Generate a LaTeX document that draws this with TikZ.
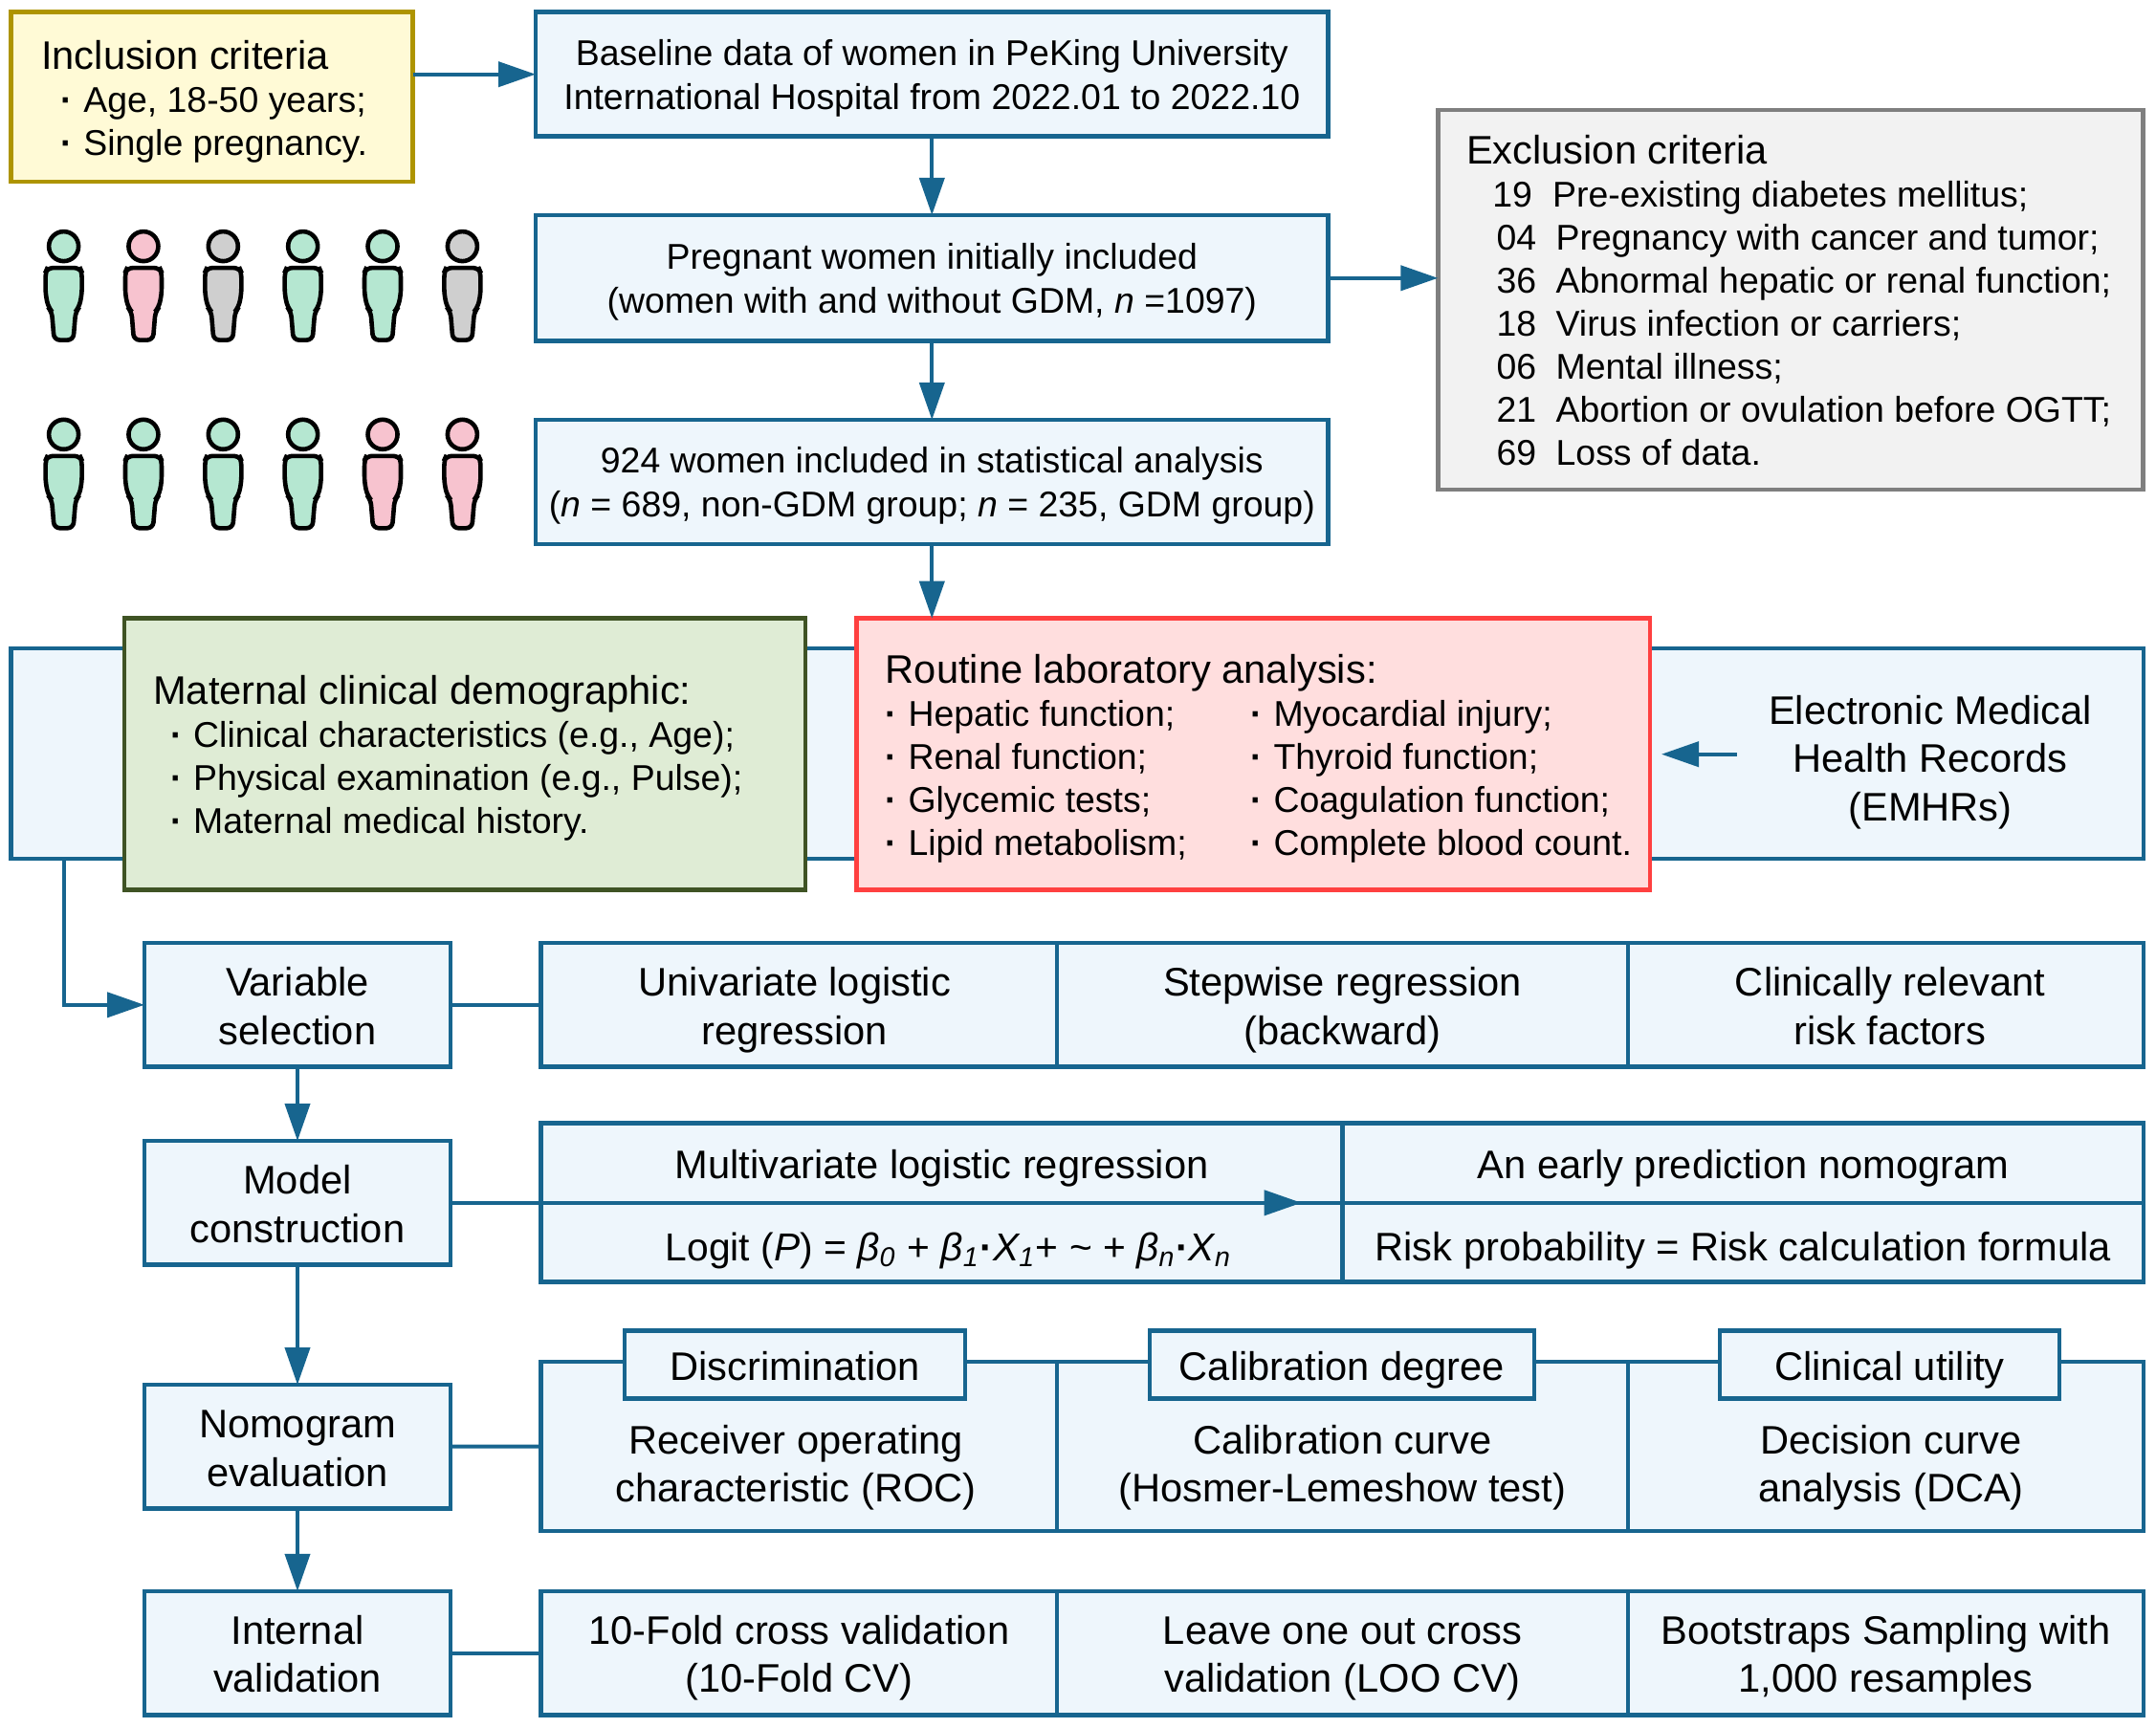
\documentclass[tikz,border=0pt]{standalone}
\usepackage{fontspec}
\setmainfont{Liberation Sans}
\usetikzlibrary{arrows.meta}
\definecolor{flowblue}{HTML}{17658F}
\definecolor{cellblue}{HTML}{EEF6FC}
\definecolor{pgreen}{HTML}{B5E7D1}
\definecolor{ppink}{HTML}{F7C3CF}
\definecolor{pgray}{HTML}{CFCFCF}
\newcommand{\bigf}{\fontsize{11.85}{12.8}\selectfont}
\newcommand{\dotitem}[1]{\hspace*{#1}\textbf{·}\hspace*{3.2pt}}
\newcommand{\exitem}[4]{\hspace*{#1}#2\hspace*{#3}#4}
\begin{document}
\begin{tikzpicture}[
    flow/.style={draw=flowblue,line width=.04cm,>={Triangle[length=.39cm,width=.26cm]}},
    sized/.style 2 args={minimum width=#1,text width=#1,minimum height=#2},
    cell/.style={rectangle,draw=flowblue,fill=cellblue,line width=.046cm,inner sep=0pt,outer sep=0pt,align=flush center,font=\fontsize{11.85}{14.3}\selectfont,execute at begin node={\rule{0pt}{13.5pt}},execute at end node=\strut},
    line cell/.style={cell,execute at begin node={\rule{0pt}{11pt}}},
    thin cell/.style={cell,font=\fontsize{10.65}{13.1}\selectfont,execute at begin node={\rule{0pt}{7.8pt}},execute at end node={\rule[-5.6pt]{0pt}{5.6pt}}},
    note/.style={rectangle,line width=.046cm,outer sep=0pt,align=flush left,font=\fontsize{10.65}{12.8}\selectfont,inner ysep=0pt,execute at begin node={\rule{0pt}{12.8pt}},execute at end node=\strut},
    plain/.style={inner sep=0pt,outer sep=0pt,align=flush center,font=\fontsize{11.85}{14.3}\selectfont,execute at begin node={\rule{0pt}{12.4pt}},execute at end node=\strut},
    person/.pic={
        \draw[pic actions,line width=.046cm] (0,0) circle (.155);
        \draw[pic actions,line width=.046cm,rounded corners=.6mm] (-.17,-.225) -- (.17,-.225) -- (.19,-.27) -- (.19,-.5) -- (.16,-.64) -- (.125,-.68) -- (.1,-.98) -- (-.1,-.98) -- (-.125,-.68) -- (-.16,-.64) -- (-.19,-.5) -- (-.19,-.27) -- cycle;
    },
    ]
    \useasboundingbox (0,0) rectangle (22.54,-18.07);

    \node[note,draw={rgb,255:red,174;green,148;blue,0},fill={rgb,255:red,255;green,250;blue,214},inner xsep=.316cm,text width=3.568cm,minimum height=1.774cm] (inclusion) at (2.216,-1.013) {{\bigf Inclusion criteria}\\\dotitem{5.8pt}Age, 18-50 years;\\\dotitem{5.8pt}Single pregnancy.};
    \node[thin cell,sized={8.286cm}{1.30cm}] (baseline) at (9.743,-.777) {Baseline data of women in PeKing University\\International Hospital from 2022.01 to 2022.10};
    \node[thin cell,sized={8.286cm}{1.317cm}] (initial) at (9.743,-2.908) {Pregnant women initially included\\(women with and without GDM, \textit{n} =1097)};
    \node[thin cell,sized={8.286cm}{1.30cm}] (included) at (9.743,-5.04) {924 women included in statistical analysis\\(\textit{n} = 689, non-GDM group; \textit{n} = 235, GDM group)};
    \node[note,draw={rgb,255:red,127;green,127;blue,127},fill={rgb,255:red,242;green,242;blue,242},inner xsep=.297cm,text width=6.78cm,minimum height=3.97cm] (exclusion) at (18.72,-3.135) {{\bigf Exclusion criteria}\\
        \exitem{7.8pt}{19}{6pt}{Pre-existing diabetes mellitus;}\\
        \exitem{9pt}{04}{5.8pt}{Pregnancy with cancer and tumor;}\\
        \exitem{9pt}{36}{5.8pt}{Abnormal hepatic or renal function;}\\
        \exitem{9pt}{18}{5.8pt}{Virus infection or carriers;}\\
        \exitem{9pt}{06}{5.8pt}{Mental illness;}\\
        \exitem{9pt}{21}{5.8pt}{Abortion or ovulation before OGTT;}\\
        \exitem{9pt}{69}{5.8pt}{Loss of data.}};

    \foreach \c [count=\i] in {pgreen,ppink,pgray,pgreen,pgreen,pgray}
        \pic[fill=\c] at ({.666+(\i-1)*.8336},-2.576) {person};
    \foreach \c [count=\i] in {pgreen,pgreen,pgreen,pgreen,ppink,ppink}
        \pic[fill=\c] at ({.666+(\i-1)*.8336},-4.543) {person};

    \node[cell,sized={22.295cm}{2.2cm}] (band) at (11.263,-7.88) {};
    \node[note,draw={rgb,255:red,63;green,83;blue,36},fill={rgb,255:red,223;green,236;blue,213},inner xsep=.302cm,text width=6.516cm,minimum height=2.84cm] (maternal) at (4.86,-7.887) {{\bigf Maternal clinical demographic:}\\\dotitem{5.2pt}Clinical characteristics (e.g., Age);\\\dotitem{5.2pt}Physical examination (e.g., Pulse);\\\dotitem{5.2pt}Maternal medical history.};
    \node[note,draw={rgb,255:red,255;green,64;blue,64},fill={rgb,255:red,255;green,222;blue,222},inner xsep=.302cm,text width=7.69cm,minimum height=2.84cm] (routine) at (13.103,-7.887) {{\bigf Routine laboratory analysis:}\\
        \makebox[3.82cm][l]{\dotitem{0pt}Hepatic function;}\makebox[3.8cm][l]{\dotitem{0pt}Myocardial injury;}\\
        \makebox[3.82cm][l]{\dotitem{0pt}Renal function;}\makebox[3.8cm][l]{\dotitem{0pt}Thyroid function;}\\
        \makebox[3.82cm][l]{\dotitem{0pt}Glycemic tests;}\makebox[3.8cm][l]{\dotitem{0pt}Coagulation function;}\\
        \makebox[3.82cm][l]{\dotitem{0pt}Lipid metabolism;}\makebox[3.8cm][l]{\dotitem{0pt}Complete blood count.}};
    \node[plain,text width=4.05cm] (emhr) at (20.18,-7.935) {Electronic Medical\\Health Records\\(EMHRs)};

    \node[cell,sized={3.2cm}{1.295cm}] (variable) at (3.11,-10.508) {Variable\\selection};
    \node[cell,sized={3.2cm}{1.295cm}] (model) at (3.11,-12.578) {Model\\construction};
    \node[cell,sized={3.2cm}{1.295cm}] (nomogram) at (3.11,-15.128) {Nomogram\\evaluation};
    \node[cell,sized={3.2cm}{1.295cm}] (internal) at (3.11,-17.286) {Internal\\validation};

    \node[cell,sized={5.393cm}{1.295cm}] (univariate) at (8.354,-10.508) {Univariate logistic\hspace*{.09cm}\mbox{}\\regression\hspace*{.09cm}\mbox{}};
    \node[cell,sized={5.97cm}{1.295cm}] (stepwise) at (14.035,-10.508) {Stepwise regression\\(backward)};
    \node[cell,sized={5.39cm}{1.295cm}] (relevant) at (19.715,-10.508) {\hspace*{.09cm}Clinically relevant\\\hspace*{.09cm}risk factors};

    \node[line cell,sized={8.38cm}{.836cm}] (multi) at (9.847,-12.16) {Multivariate logistic regression};
    \node[line cell,sized={8.38cm}{.824cm}] (logit) at (9.847,-12.99) {\raisebox{-.9pt}{\hspace*{.14cm}\fontsize{11.6}{14.3}\selectfont Logit (\textit{P}) = \textit{β\textsubscript{0}} + \textit{β\textsubscript{1}}\textbf{·}\textit{X\textsubscript{1}}+ \textasciitilde{} + \textit{β\textsubscript{n}}\textbf{·}\textit{X\textsubscript{n}}}};
    \node[line cell,sized={8.373cm}{.836cm}] (early) at (18.224,-12.16) {An early prediction nomogram};
    \node[line cell,sized={8.373cm}{.824cm}] (risk) at (18.224,-12.99) {\raisebox{-.9pt}{Risk probability = Risk calculation formula}};

    \node[cell,sized={5.393cm}{1.77cm}] (roc) at (8.354,-15.125) {};
    \node[cell,sized={5.97cm}{1.77cm}] (calib) at (14.035,-15.125) {};
    \node[cell,sized={5.39cm}{1.77cm}] (dca) at (19.715,-15.125) {};
    \node[line cell,sized={3.56cm}{.71cm}] (discrim) at (8.31,-14.272) {Discrimination};
    \node[line cell,sized={4.02cm}{.71cm}] (degree) at (14.03,-14.272) {Calibration degree};
    \node[line cell,sized={3.55cm}{.71cm}] (utility) at (19.755,-14.272) {Clinical utility};
    \node[plain,text width=5.2cm] (roctext) at (8.32,-15.316) {Receiver operating\\characteristic (ROC)};
    \node[plain,text width=5.8cm] (calibtext) at (14.035,-15.316) {Calibration curve\\(Hosmer-Lemeshow test)};
    \node[plain,text width=5.2cm] (dcatext) at (19.77,-15.316) {Decision curve\\analysis (DCA)};

    \node[cell,sized={5.393cm}{1.295cm}] (tenfold) at (8.354,-17.286) {10-Fold cross validation\\(10-Fold CV)};
    \node[cell,sized={5.97cm}{1.295cm}] (loo) at (14.035,-17.286) {Leave one out cross\\validation (LOO CV)};
    \node[cell,sized={5.39cm}{1.295cm}] (boot) at (19.715,-17.286) {Bootstraps Sampling with\\1,000 resamples};

    \draw[flow,->] (inclusion.east |- baseline.west) -- (baseline.west);
    \draw[flow,->] (baseline) -- (initial);
    \draw[flow,->] (initial) -- (included);
    \draw[flow,->] (initial.east) -- (initial.east -| exclusion.west);
    \draw[flow,->] (included.south) -- (included.south |- routine.north);
    \draw[flow,->,shorten >=.12cm] (emhr.west |- routine.east) -- (routine.east);
    \draw[flow,->] ([xshift=.555cm]band.south west) |- (variable.west);
    \draw[flow] (variable) -- (univariate);
    \draw[flow,->] (variable) -- (model);
    \draw[flow,->] (model.east) -- ([xshift=-.43cm]multi.south east);
    \draw[flow,->] (model) -- (nomogram);
    \draw[flow] (nomogram) -- (roc);
    \draw[flow,->] (nomogram) -- (internal);
    \draw[flow] (internal) -- (tenfold);
\end{tikzpicture}
\end{document}
